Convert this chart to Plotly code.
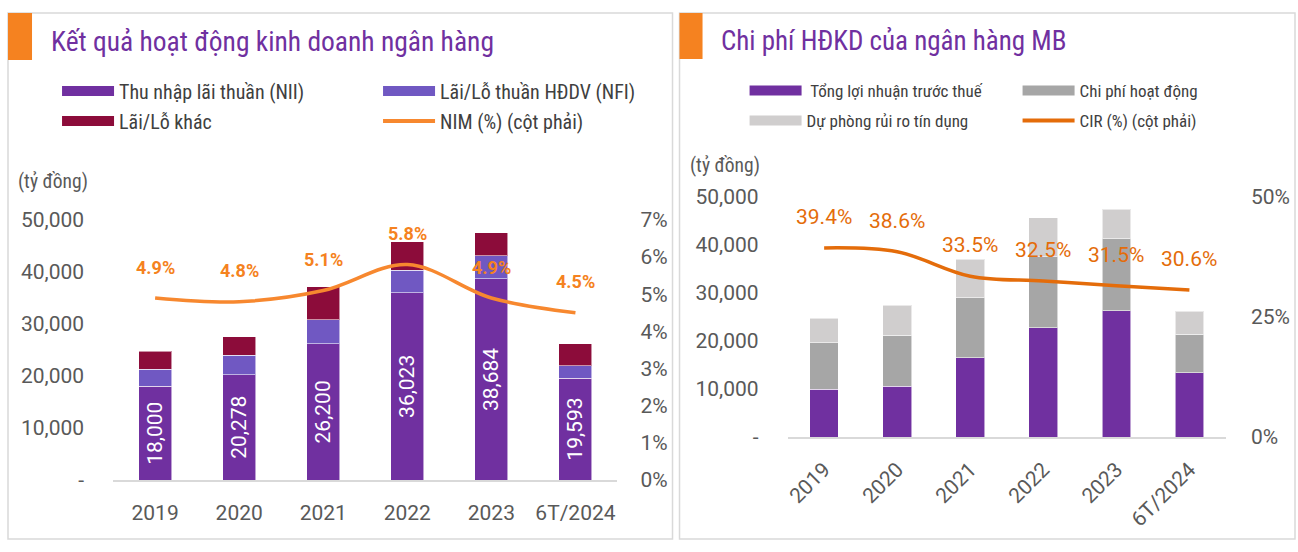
import plotly.graph_objects as go

# photo box in which the page lands (measured): x 2..1296, y 12..540
PX0, PXW = 2.0, 1294.0
PY0, PYH = 12.0, 528.0

# ---------------- data ----------------
years = ["2019", "2020", "2021", "2022", "2023", "6T/2024"]

# left chart (tỷ đồng)
nii = [18000, 20278, 26200, 36023, 38684, 19593]
nfi = [3300, 3750, 4600, 4350, 4400, 2400]
other = [3500, 3500, 6400, 5450, 4450, 4250]
nim = [4.9, 4.8, 5.1, 5.8, 4.9, 4.5]

# right chart (tỷ đồng)
pbt = [9900, 10600, 16500, 22800, 26300, 13400]
opex = [9700, 10600, 12500, 14800, 15000, 8000]
provision = [5100, 6200, 8000, 8100, 6100, 4800]
cir = [39.4, 38.6, 33.5, 32.5, 31.5, 30.6]

left_yticks = [0, 10000, 20000, 30000, 40000, 50000]
left_yticktext = ["-", "10,000", "20,000", "30,000", "40,000", "50,000"]
left_y2ticks = [0, 1, 2, 3, 4, 5, 6, 7]
right_yticks = [0, 10000, 20000, 30000, 40000, 50000]
right_yticktext = ["-", "10,000", "20,000", "30,000", "40,000", "50,000"]
right_y2ticks = [0, 25, 50]

# ---------------- styles ----------------
PURPLE = "#7030A0"
NFI_C = "#7058C2"
OTHER_C = "#8C0C3A"
ORANGE_L = "#F7882F"
ORANGE_LBL = "#F58220"
ORANGE_R = "#E46C0A"
GREY_D = "#A6A6A6"
GREY_L = "#D0CECE"
TICK_C = "#595959"
TXT_C = "#404040"
NARROW = "Liberation Sans Narrow, Arial Narrow, Roboto Condensed, sans-serif"
NUM = "Roboto, Open Sans, sans-serif"

def px(x):
    return min(max((x - PX0) / PXW, 0.0), 1.0)

def py(y):
    return min(max(1 - (y - PY0) / PYH, 0.0), 1.0)

fig = go.Figure()

bar_line = dict(color="rgba(255,255,255,0.55)", width=1)

# ---- left chart ----
fig.add_trace(go.Bar(x=years, y=nii, marker=dict(color=PURPLE, line=bar_line),
                     texttemplate="%{y:,.0f}", textposition="inside", textangle=-90,
                     insidetextanchor="middle", constraintext="none",
                     textfont=dict(family=NUM, size=21, color="white"),
                     showlegend=False, xaxis="x", yaxis="y", hoverinfo="skip"))
fig.add_trace(go.Bar(x=years, y=nfi, marker=dict(color=NFI_C, line=bar_line),
                     showlegend=False, xaxis="x", yaxis="y", hoverinfo="skip"))
fig.add_trace(go.Bar(x=years, y=other, marker=dict(color=OTHER_C, line=bar_line),
                     showlegend=False, xaxis="x", yaxis="y", hoverinfo="skip"))
fig.add_trace(go.Scatter(x=years, y=nim, mode="lines",
                         line=dict(color=ORANGE_L, width=3.5, shape="spline", smoothing=1.0),
                         showlegend=False, xaxis="x", yaxis="y2", hoverinfo="skip"))

# ---- right chart ----
fig.add_trace(go.Bar(x=years, y=pbt, marker=dict(color=PURPLE, line=bar_line),
                     showlegend=False, xaxis="x2", yaxis="y3", hoverinfo="skip"))
fig.add_trace(go.Bar(x=years, y=opex, marker=dict(color=GREY_D, line=bar_line),
                     showlegend=False, xaxis="x2", yaxis="y3", hoverinfo="skip"))
fig.add_trace(go.Bar(x=years, y=provision, marker=dict(color=GREY_L, line=bar_line),
                     showlegend=False, xaxis="x2", yaxis="y3", hoverinfo="skip"))
fig.add_trace(go.Scatter(x=years, y=cir, mode="lines",
                         line=dict(color=ORANGE_R, width=3.5, shape="spline", smoothing=1.0),
                         showlegend=False, xaxis="x2", yaxis="y4", hoverinfo="skip"))

# ---- legend entries (swatches) ----
def leg(name, color, width, legend):
    fig.add_trace(go.Scatter(x=[None], y=[None], mode="lines", name=name,
                             line=dict(color=color, width=width),
                             legend=legend, xaxis="x", yaxis="y", hoverinfo="skip"))

leg("Thu nhập lãi thuần (NII)", PURPLE, 11, "legend")
leg("Lãi/Lỗ thuần HĐDV (NFI)", NFI_C, 11, "legend")
leg("Lãi/Lỗ khác", OTHER_C, 11, "legend2")
leg("NIM (%) (cột phải)", ORANGE_L, 4, "legend2")
leg(" Tổng lợi nhuận trước thuế", PURPLE, 11, "legend3")
leg("Chi phí hoạt động", GREY_D, 11, "legend3")
leg("Dự phòng rủi ro tín dụng", GREY_L, 11, "legend4")
leg("CIR (%) (cột phải)", ORANGE_R, 4, "legend4")

def legend_cfg(x, y, ew, size):
    return dict(orientation="h", x=x, y=y, xanchor="left", yanchor="middle",
                entrywidth=ew, entrywidthmode="pixels", itemwidth=52, traceorder="normal",
                font=dict(family=NARROW, size=size, color=TXT_C),
                bgcolor="rgba(0,0,0,0)", borderwidth=0, tracegroupgap=0,
                itemclick=False, itemdoubleclick=False)

# ---- annotations (value labels), x = category index ----
annotations = []
for i, v in enumerate(nim):
    annotations.append(dict(x=i, y=v, xref="x", yref="y2", yshift=31, showarrow=False,
                            text=f"{v:.1f}%", font=dict(family=NUM, size=18, color=ORANGE_LBL,
                                                        weight="bold")))
for i, v in enumerate(cir):
    annotations.append(dict(x=i, y=v, xref="x2", yref="y4", yshift=31, showarrow=False,
                            text=f"{v:.1f}%", font=dict(family=NUM, size=21, color=ORANGE_R)))

annotations += [
    dict(x=px(48), y=py(41), xref="paper", yref="paper", xanchor="left", yanchor="middle",
         showarrow=False, text="Kết quả hoạt động kinh doanh ngân hàng",
         font=dict(family=NARROW, size=27.5, color=PURPLE)),
    dict(x=px(717), y=py(41), xref="paper", yref="paper", xanchor="left", yanchor="middle",
         showarrow=False, text="Chi phí HĐKD của ngân hàng MB",
         font=dict(family=NARROW, size=27, color=PURPLE)),
    dict(x=px(15), y=py(181), xref="paper", yref="paper", xanchor="left", yanchor="middle",
         showarrow=False, text="(tỷ đồng)", font=dict(family=NARROW, size=19.5, color=TICK_C)),
    dict(x=px(686), y=py(165), xref="paper", yref="paper", xanchor="left", yanchor="middle",
         showarrow=False, text="(tỷ đồng)", font=dict(family=NARROW, size=19.5, color=TICK_C)),
]

shapes = [
    dict(type="rect", xref="paper", yref="paper", x0=px(7), x1=px(671), y0=py(539), y1=py(13),
         line=dict(color="#D9D9D9", width=1.5), fillcolor="rgba(0,0,0,0)", layer="below"),
    dict(type="rect", xref="paper", yref="paper", x0=px(678), x1=px(1293), y0=py(539), y1=py(13),
         line=dict(color="#D9D9D9", width=1.5), fillcolor="rgba(0,0,0,0)", layer="below"),
    dict(type="rect", xref="paper", yref="paper", x0=px(7), x1=px(31), y0=py(60), y1=py(13),
         line=dict(width=0), fillcolor=ORANGE_LBL),
    dict(type="rect", xref="paper", yref="paper", x0=px(678), x1=px(701), y0=py(59), y1=py(13),
         line=dict(width=0), fillcolor=ORANGE_LBL),
]

tickfont = dict(family=NUM, size=21, color=TICK_C)
cat_range = [-0.5, len(years) - 0.5]

fig.update_layout(
    autosize=True, margin=dict(l=0, r=0, t=0, b=0, pad=0),
    paper_bgcolor="white", plot_bgcolor="rgba(0,0,0,0)",
    barmode="stack", bargap=0.607,
    annotations=annotations, shapes=shapes,
    legend=legend_cfg(px(56), py(91), 254, 20),
    legend2=legend_cfg(px(56), py(121), 254, 20),
    legend3=legend_cfg(px(743), py(91), 206, 17),
    legend4=legend_cfg(px(743), py(121), 206, 17),
    xaxis=dict(domain=[px(112), px(616)], anchor="y", type="category", range=cat_range,
               showline=True, linecolor="#D9D9D9", linewidth=2, ticks="", tickfont=tickfont,
               ticklabelstandoff=13, showgrid=False, zeroline=False),
    yaxis=dict(domain=[py(480), py(220)], anchor="x", range=[0, 50000], tickvals=left_yticks,
               ticktext=left_yticktext, showgrid=False, zeroline=False, ticks="",
               tickfont=tickfont, ticklabelstandoff=28, showline=False),
    yaxis2=dict(overlaying="y", anchor="x", side="right", range=[0, 7], tickvals=left_y2ticks,
                ticktext=[f"{t}%" for t in left_y2ticks], showgrid=False, zeroline=False,
                ticks="", tickfont=tickfont, ticklabelstandoff=22),
    xaxis2=dict(domain=[px(786), px(1224)], anchor="y3", type="category", range=cat_range,
                showline=True, linecolor="#D9D9D9", linewidth=2, ticks="", tickfont=tickfont,
                tickangle=-45, ticklabelstandoff=10, showgrid=False, zeroline=False),
    yaxis3=dict(domain=[py(437), py(197)], anchor="x2", range=[0, 50000], tickvals=right_yticks,
                ticktext=right_yticktext, showgrid=False, zeroline=False, ticks="",
                tickfont=tickfont, ticklabelstandoff=28),
    yaxis4=dict(overlaying="y3", anchor="x2", side="right", range=[0, 50], tickvals=right_y2ticks,
                ticktext=[f"{t}%" for t in right_y2ticks], showgrid=False, zeroline=False,
                ticks="", tickfont=tickfont, ticklabelstandoff=24),
)

fig.write_html("out.html",
               default_width="100vw", default_height="100vh",
               config={"displayModeBar": False, "responsive": True},
               post_script="document.documentElement.style.margin='0';"
                           "document.body.style.margin='0';"
                           "document.body.style.overflow='hidden';"
                           "document.documentElement.style.overflow='hidden';")
